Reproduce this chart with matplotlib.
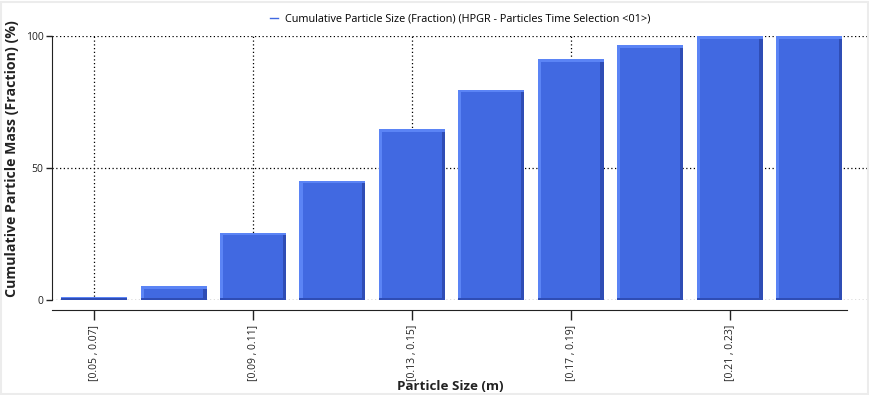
import matplotlib
matplotlib.use("Agg")
import matplotlib.pyplot as plt
from matplotlib.lines import Line2D
from matplotlib.patches import Rectangle
import numpy as np

categories = ["[0.05 , 0.07]", "[0.07 , 0.09]", "[0.09 , 0.11]", "[0.11 , 0.13]",
              "[0.13 , 0.15]", "[0.15 , 0.17]", "[0.17 , 0.19]", "[0.19 , 0.21]",
              "[0.21 , 0.23]", "[0.23 , 0.25]"]
values = [1.0, 5.3, 25.5, 45.2, 64.6, 79.7, 91.2, 96.5, 100.0, 100.0]
yticks = [0, 50, 100]
series_name = "Cumulative Particle Size (Fraction) (HPGR - Particles Time Selection <01>)"
x_title = "Particle Size (m)"
y_title = "Cumulative Particle Mass (Fraction) (%)"

plt.rcParams['font.family'] = ['Open Sans', 'DejaVu Sans']

W, H = 869, 395
fig = plt.figure(figsize=(W / 100, H / 100), dpi=100)
# faint window frame
fig.patches.append(Rectangle((1 / W, 1 / H), 1 - 2.5 / W, 1 - 2.5 / H, transform=fig.transFigure,
                             fill=False, edgecolor="#ececec", linewidth=1.5, zorder=0))
ax = fig.add_axes([52 / W, (H - 300) / H, (867 - 52) / W, (300 - 36) / H])

x = np.arange(len(values))
vals = np.array(values)
bw = 0.83
main = "#4169E1"
light = "#5B84F5"
dark = "#2F4DB5"

ax.bar(x, vals, width=bw, color=main, zorder=3)
# bevel: light left and top, dark right and bottom
ex = 0.04
ax.bar(x - bw / 2, vals, width=ex, align='edge', color=light, zorder=4)
ax.bar(x + bw / 2 - ex, vals, width=ex, align='edge', color=dark, zorder=4)
ax.bar(x, np.full_like(vals, 1.0), bottom=vals - 1.0, width=bw, color=light, zorder=4)
ax.bar(x, np.full_like(vals, 0.8), bottom=0, width=bw, color=dark, zorder=4)

ax.set_xlim(-0.53, 9.73)
ax.set_ylim(0, 100)

ax.set_yticks(yticks)
ax.set_xticks(x[::2])
ax.set_xticklabels(categories[::2])
ax.tick_params(axis='y', length=4, width=1, labelsize=7.5, colors="#222222", pad=2)
ax.tick_params(axis='x', length=7, width=1, pad=4, colors="#222222",
               labelrotation=90, labelsize=7.5)

for s in ['top', 'right']:
    ax.spines[s].set_visible(False)
ax.spines['left'].set_color("#222222")
ax.spines['bottom'].set_color("#222222")
ax.spines['bottom'].set_position(('outward', 7))
ax.spines['bottom'].set_bounds(-0.53, 9.48)

ax.grid(True, which='major', axis='both', linestyle=(0, (1, 2)), color='black', linewidth=0.9, zorder=0)
ax.set_axisbelow(True)

fig.text(450 / W, 1 - 386 / H, x_title, fontsize=9.6, fontweight='bold',
         ha='center', va='center', color="#222222")
fig.text(12 / W, 1 - 159 / H, y_title, fontsize=10.2, fontweight='bold',
         ha='center', va='center', rotation=90, color="#222222")

fig.legend([Line2D([0], [0], color=main, lw=1)], [series_name],
           loc='center', bbox_to_anchor=(460 / W, 1 - 19 / H), frameon=False,
           fontsize=7.8, handlelength=0.8, handletextpad=0.6)

fig.savefig("out.png", dpi=100)
